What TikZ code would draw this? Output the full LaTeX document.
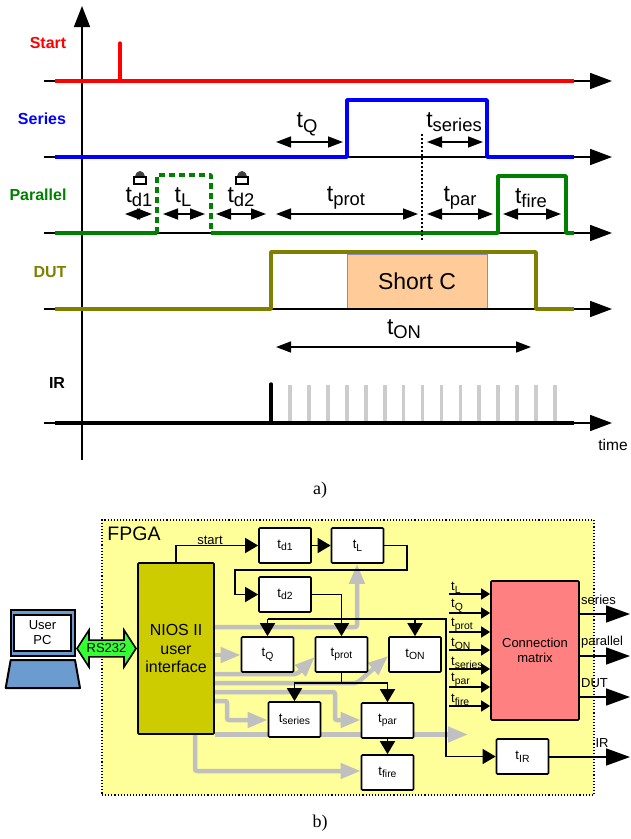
\documentclass[tikz,border=0pt]{standalone}
\usepackage{fontspec}
\setmainfont{Liberation Sans}
\newfontfamily\capfont{Liberation Serif}
\usepackage{xcolor}
\usetikzlibrary{arrows.meta,backgrounds,shapes.arrows}
\definecolor{sigred}{HTML}{FF0000}
\definecolor{sigblue}{HTML}{0000FF}
\definecolor{siggreen}{HTML}{008000}
\definecolor{sigolive}{HTML}{808000}
\definecolor{pulsegray}{HTML}{CCCCCC}
\definecolor{busgray}{HTML}{C0C0C0}
\definecolor{fpgayellow}{HTML}{FFFF99}
\definecolor{niosyellow}{HTML}{CCCC00}
\definecolor{matrixred}{HTML}{FF8080}
\definecolor{shortorange}{HTML}{FFCC99}
\definecolor{pcblue}{HTML}{6C9BD0}
\definecolor{linkgreen}{HTML}{33FF33}
\newcommand{\tsub}[1]{t\raisebox{-.2em}{\scalebox{.8}{#1}}}

\begin{document}
\begin{tikzpicture}[
  x=1pt,y=-1pt,
  every node/.style={font=\fontsize{13}{15.5}\selectfont,inner sep=0pt,align=center},
  axis/.style={line width=1.7pt,-{Triangle[length=22pt,width=16pt]}},
  sig/.style={line width=3.5pt,line join=round},
  pulse/.style={line width=3.7pt,pulsegray},
  dim/.style={line width=1.5pt,{Triangle[length=15pt,width=11pt]}-{Triangle[length=15pt,width=11pt]}},
  rowlab/.style={font=\fontsize{16}{18}\selectfont\bfseries},
  tlab/.style={font=\fontsize{23}{26}\selectfont},
  caplab/.style={font=\fontsize{18}{20}\selectfont\capfont},
  box/.style={draw,fill=white,line width=1.7pt,rounded corners=1pt,minimum width=52pt,minimum height=35pt},
  wire/.style={line width=1.6pt,-{Triangle[length=13pt,width=15pt]}},
  plain/.style={line width=1.6pt},
  inwire/.style={line width=1.5pt,-{Triangle[length=9pt,width=11pt]}},
  outwire/.style={line width=1.6pt,-{Triangle[length=24pt,width=17pt]}},
  bus/.style={line width=4.5pt,busgray,rounded corners=2pt,-{Triangle[length=20pt,width=15pt]}}
]
  \useasboundingbox (0,0) rectangle (630,839);

  \node[rectangle,draw=blue!30!gray!70,fill=shortorange,line width=.8pt,minimum width=140pt,minimum height=55pt,font=\fontsize{23}{26}\selectfont] (shortc) at (417,281.5) {Short C};

  \coordinate (ybot) at (82,460);
  \coordinate (ytop) at (82,6);
  \draw[line width=1.7pt,-{Triangle[length=21pt,width=16pt]}] (ybot) -- (ytop);
  \foreach \rowname/\y in {start/81,series/157,parallel/233,dut/309,ir/423} {
    \coordinate (\rowname a) at (44,\y);
    \coordinate (\rowname b) at (612,\y);
    \draw[axis] (\rowname a) -- (\rowname b);
  }

  \draw[sig,sigred] (55,81) -- (574,81);
  \draw[line width=3.2pt,sigred,line cap=round] (120,81) -- (120,43);
  \draw[sig,sigblue] (55,157) -- (347,157) -- (347,100) -- (487,100) -- (487,157) -- (574,157);
  \draw[sig,siggreen] (55,233) -- (157,233);
  \draw[sig,siggreen,dash pattern=on 6pt off 4pt] (157,233) -- (157,175) -- (211,175) -- (211,233);
  \draw[sig,siggreen] (211,233) -- (498,233) -- (498,176) -- (566,176) -- (566,233) -- (574,233);
  \draw[sig,sigolive] (55,309) -- (271,309) -- (271,252) -- (536,252) -- (536,309) -- (574,309);
  \draw[sig,black] (55,423) -- (574,423);
  \draw[sig,black,line cap=round] (271,423) -- (271,384);
  \foreach \n in {0,...,14} {
    \draw[pulse] ({290+\n*18.93},421) -- ({290+\n*18.93},385);
  }

  \draw[line width=1.3pt,dash pattern=on 2pt off 2pt] (422,134) -- (422,240);
  \foreach \lockx in {140,242} {
    \fill[black!75] ({\lockx-5},177) .. controls ({\lockx-4},169) and ({\lockx+4},169) .. ({\lockx+5},177);
    \draw[fill=white,line width=1.7pt] ({\lockx-6},177) rectangle ({\lockx+6},184);
  }

  \node[rowlab,text=sigred] (startlab) at (48,43) {Start};
  \node[rowlab,text=sigblue] (serieslab) at (42,119) {Series};
  \node[rowlab,text=siggreen] (parallellab) at (38,195) {Parallel};
  \node[rowlab,text=sigolive] (dutlab) at (50,272) {DUT};
  \node[rowlab] (irlab) at (57,383) {IR};

  \foreach \dimname/\xa/\xb/\y/\lx/\ly/\sub in {
    dq/276/343/142/307/124/Q,
    dseries/427/483/142/454/122/series,
    dda/125/152/214/139/197/d1,
    dl/163/205/214/183/197/L,
    ddb/216/266/214/241/197/d2,
    dprot/276/418/214/346/198/prot,
    dpar/427/493/214/460/198/par,
    dfire/503/561/214/531/198/fire,
    don/276/531/347/404/329/ON} {
    \coordinate (\dimname a) at (\xa,\y);
    \coordinate (\dimname b) at (\xb,\y);
    \draw[dim] (\dimname a) -- (\dimname b);
    \node[tlab] (\dimname t) at (\lx,\ly) {\tsub{\sub}};
  }

  \node[font=\fontsize{15.5}{18}\selectfont] (timelab) at (613,445) {time};
  \node[caplab] (capa) at (320,490) {a)};

  \node[box,fill=niosyellow,minimum width=76pt,minimum height=171pt,font=\fontsize{16}{18.5}\selectfont] (nios) at (176,648.5) {NIOS II\\user\\interface};
  \node[box] (td1) at (285,545.5) {\tsub{d1}};
  \node[box] (tL) at (357.5,545.5) {\tsub{L}};
  \node[box] (td2) at (285,594.5) {\tsub{d2}};
  \node[box] (tQ) at (267.5,654.5) {\tsub{Q}};
  \node[box] (tprot) at (341.5,654.5) {\tsub{prot}};
  \node[box] (tON) at (415,654.5) {\tsub{ON}};
  \node[box] (tseries) at (294.5,719.5) {\tsub{series}};
  \node[box] (tpar) at (387.5,720.5) {\tsub{par}};
  \node[box] (tfire) at (387.5,772.5) {\tsub{fire}};
  \node[box] (tIR) at (522.5,756.5) {\tsub{IR}};
  \node[box,fill=matrixred,minimum width=88pt,minimum height=139pt] (matrix) at (535,650.5) {Connection\\matrix};

  \begin{scope}[on background layer]
    \node[rectangle,draw,dotted,fill=fpgayellow,line width=1.1pt,minimum width=492pt,minimum height=275pt] (fpga) at (348,657.5) {};
    \draw[bus] (nios.east |- 0,627) -- (357,627) -- (tL.south -| 357,0);
    \draw[bus] (nios.east |- 0,655) -- (tQ.west |- 0,655);
    \draw[bus] (nios.east |- 0,674) -- (297,674) -- (tprot.west |- 0,657);
    \draw[bus] (nios.east |- 0,683) -- (357,683) -- (tON.west |- 0,656);
    \draw[bus] (nios.east |- 0,692) -- (335,692) -- (335,720) -- (tpar.west |- 0,720);
    \draw[bus] (nios.east |- 0,701) -- (227,701) -- (227,720) -- (tseries.west |- 0,720);
    \draw[bus] (nios.east |- 0,734.5) -- (468,734.5);
    \draw[bus] (nios.south -| 195,0) -- (195,771) -- (tfire.west |- 0,771);
  \end{scope}

  \node[font=\fontsize{19.5}{22}\selectfont] (fpgalab) at (134,534) {FPGA};
  \node (startwire) at (210,540) {start};

  \draw[wire] (nios.north) |- (td1);
  \draw[wire] (td1) -- (tL);
  \draw[wire] (tL) -- (407,545.5) -- (407,570) -- (235,570) |- (td2);
  \draw[wire] (td2) -| (tprot);

  \coordinate (ctl) at (tQ.north |- 0,619);
  \draw[wire] (ctl) -- (tQ);
  \draw[wire,line width=1.3pt] (ctl) -- (446,619) |- (tIR);
  \draw[wire] (tON.north |- ctl) -- (tON);

  \coordinate (gate) at (tprot.south |- 0,683);
  \draw[plain] (tprot.south) -- (gate);
  \draw[wire] (gate) -| (tseries);
  \draw[wire] (gate) -| (tpar);
  \draw[wire] (tpar) -- (tfire);

  \foreach \y/\sub in {594/L,613/Q,632/prot,650/ON,669/series,687/par,706/fire} {
    \coordinate (in\sub) at (449,\y);
    \draw[inwire] (in\sub) -- (matrix.west |- in\sub);
    \node[anchor=south west,yshift=.5pt] (lab\sub) at (451,\y) {\tsub{\sub}};
  }

  \foreach \y/\name in {614/series,656/parallel,697/DUT} {
    \coordinate (out\name) at (630,\y);
    \draw[outwire] (matrix.east |- out\name) -- (out\name);
    \node[anchor=west] (lab\name) at (581,{\y-14}) {\name};
  }
  \coordinate (outir) at (630,757);
  \draw[outwire] (tIR.east |- outir) -- (outir);
  \node (labir) at (602,743) {IR};

  \node[rectangle,draw,line width=2pt,fill=pcblue,minimum width=64pt,minimum height=46pt] (screen) at (42.5,632.5) {};
  \node[rectangle,draw,line width=2pt,fill=white,minimum width=57pt,minimum height=36pt] (pc) at (42.5,632.5) {User\\PC};
  \draw[line width=2pt,fill=pcblue,line join=round] (10.7,660) -- (75,660) -- (80,688) -- (5.7,688) -- cycle;

  \node[shape=double arrow,draw,fill=linkgreen,line width=1.6pt,double arrow tip angle=114,double arrow head extend=9pt,minimum height=59pt,minimum width=37pt,inner ysep=2pt,inner xsep=0pt] (rs) at (106.5,648.5) {RS232};

  \node[caplab] (capb) at (320,823) {b)};
\end{tikzpicture}
\end{document}
